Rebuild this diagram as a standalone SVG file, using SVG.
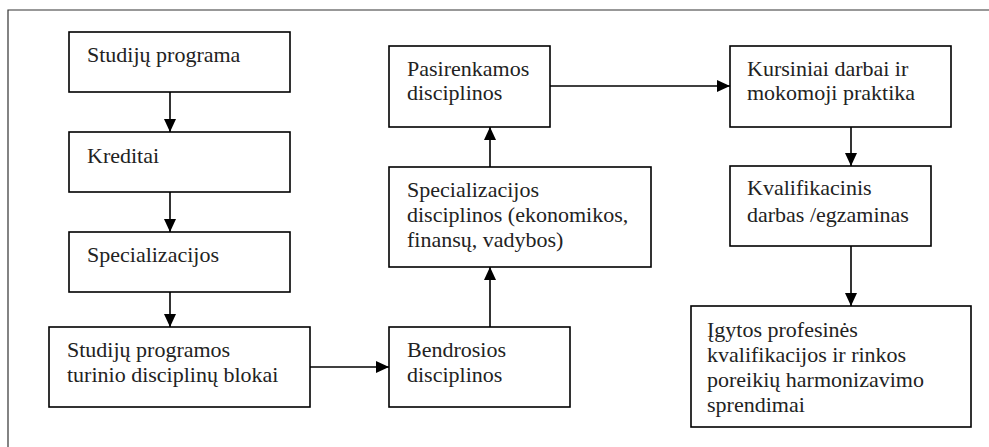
<svg xmlns="http://www.w3.org/2000/svg" width="989" height="447" viewBox="0 0 989 447">
<style>
.box{fill:#fff;stroke:#000;stroke-width:1.6}
text{font-family:'Liberation Serif','Times New Roman',Times,Tinos,'Noto Serif','DejaVu Serif',FreeSerif,'Nimbus Roman','Nimbus Roman No9 L',serif;font-size:22px;fill:#222}
.c{fill:none;stroke:#000;stroke-width:1.6}
.frame{fill:none;stroke:#333;stroke-width:1.2}
</style>
<defs>
<marker id="ah" markerUnits="userSpaceOnUse" markerWidth="14" markerHeight="14" viewBox="0 0 14 14" refX="13" refY="7" orient="auto">
<path d="M0,1 L13,7 L0,13 Z" fill="#000"/>
</marker>
</defs>
<path class="frame" d="M8,447 V10 H989"/>
<g id="connectors">
<line class="c" x1="170" y1="92" x2="170" y2="132" marker-end="url(#ah)"/>
<line class="c" x1="170" y1="192" x2="170" y2="232" marker-end="url(#ah)"/>
<line class="c" x1="170" y1="288" x2="170" y2="327" marker-end="url(#ah)"/>
<line class="c" x1="310" y1="367" x2="389" y2="367" marker-end="url(#ah)"/>
<line class="c" x1="490" y1="327" x2="490" y2="267" marker-end="url(#ah)"/>
<line class="c" x1="490" y1="167" x2="490" y2="127" marker-end="url(#ah)"/>
<line class="c" x1="550" y1="86" x2="730" y2="86" marker-end="url(#ah)"/>
<line class="c" x1="851" y1="127" x2="851" y2="166" marker-end="url(#ah)"/>
<line class="c" x1="851" y1="246" x2="851" y2="306" marker-end="url(#ah)"/>
</g>
<g id="n1"><rect class="box" x="69" y="32" width="221" height="60"/><text x="87" y="62">Studijų programa</text></g>
<g id="n2"><rect class="box" x="69" y="132" width="221" height="60"/><text x="87" y="163">Kreditai</text></g>
<g id="n3"><rect class="box" x="69" y="232" width="221" height="60"/><text x="87" y="262">Specializacijos</text></g>
<g id="n4"><rect class="box" x="49" y="327" width="261" height="80"/><text x="67" y="357">Studijų programos</text><text x="67" y="382">turinio disciplinų blokai</text></g>
<g id="n5"><rect class="box" x="389" y="327" width="181" height="80"/><text x="407" y="357">Bendrosios</text><text x="407" y="382">disciplinos</text></g>
<g id="n6"><rect class="box" x="389" y="167" width="262" height="100"/><text x="407" y="197">Specializacijos</text><text x="407" y="222">disciplinos (ekonomikos,</text><text x="407" y="247">finansų, vadybos)</text></g>
<g id="n7"><rect class="box" x="389" y="46" width="161" height="81"/><text x="407" y="76">Pasirenkamos</text><text x="407" y="100">disciplinos</text></g>
<g id="n8"><rect class="box" x="730" y="46" width="221" height="81"/><text x="747" y="76">Kursiniai darbai ir</text><text x="747" y="100">mokomoji praktika</text></g>
<g id="n9"><rect class="box" x="730" y="166" width="201" height="80"/><text x="747" y="195">Kvalifikacinis</text><text x="747" y="222">darbas /egzaminas</text></g>
<g id="n10"><rect class="box" x="691" y="306" width="280" height="121"/><text x="707" y="337">Įgytos profesinės</text><text x="707" y="362">kvalifikacijos ir rinkos</text><text x="707" y="387">poreikių harmonizavimo</text><text x="707" y="412">sprendimai</text></g>
</svg>
